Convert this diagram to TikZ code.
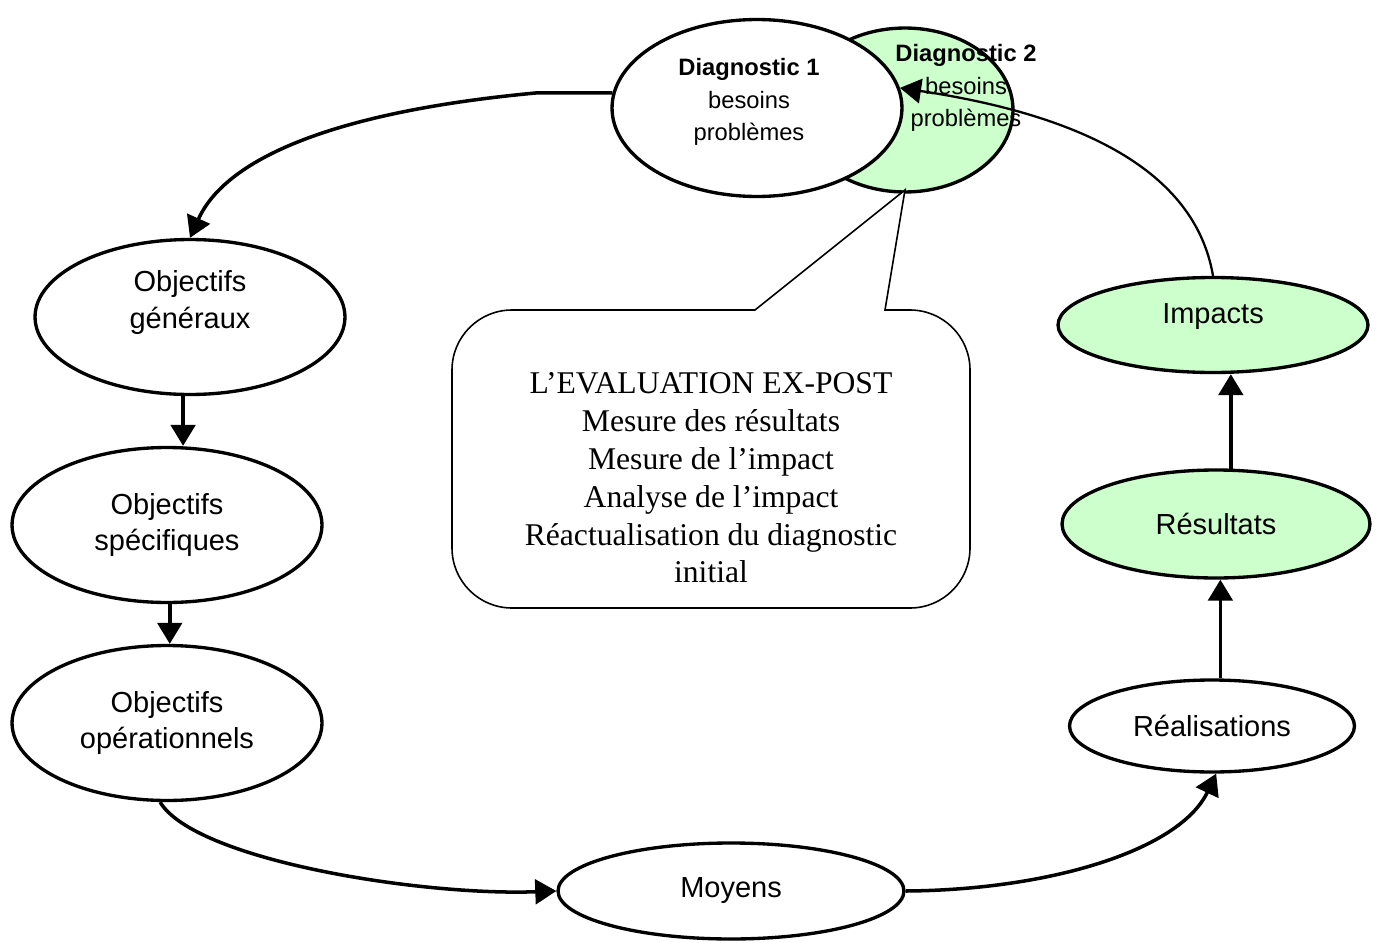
\documentclass[tikz,border=0pt]{standalone}
\usepackage{fontspec}
\setmainfont{Liberation Sans}
\newfontfamily\notefont{Liberation Serif}
\usepackage{tikz}
\usetikzlibrary{shapes.geometric, arrows.meta}
\definecolor{paleGreen}{HTML}{CCFFCC}

\begin{document}
\begin{tikzpicture}[x=0.02cm, y=-0.02cm]
            \tikzstyle{oval}=[draw, shape=ellipse, line width=1.9pt, inner sep=0pt, align=center, font=\fontsize{16.5}{21}\selectfont];
            \tikzstyle{diag}=[align=center, font=\fontsize{13.5}{18.5}\selectfont];
            \tikzstyle{arr}=[-{Triangle[length=12pt,width=14pt]}, line width=2pt];
            \useasboundingbox (0,0) rectangle (1380,943);
            \node[oval, fill=paleGreen, minimum width=4.32cm, minimum height=3.28cm] (diag2) at (905,110) {};
            \node[oval, fill=white, minimum width=5.8cm, minimum height=3.54cm] (diag1) at (757,108) {};
            \node[diag] (d1txt) at (749,102) {\textbf{Diagnostic 1}\\besoins\\problèmes};
            \node[diag] (d2txt) at (966,88) {\textbf{Diagnostic 2}\\besoins\\problèmes};
            \node[oval, text depth=20pt, minimum width=6.2cm, minimum height=3.1cm] (og) at (190,317) {Objectifs\\généraux};
            \node[oval, minimum width=6.2cm, minimum height=3.1cm] (os) at (167,525) {Objectifs\\spécifiques};
            \node[oval, minimum width=6.2cm, minimum height=3.1cm] (oo) at (167,723) {Objectifs\\opérationnels};
            \node[oval, minimum width=6.92cm, minimum height=1.92cm] (moy) at (731,891) {Moyens};
            \node[oval, minimum width=5.7cm, minimum height=1.84cm] (real) at (1212,726) {Réalisations};
            \node[oval, fill=paleGreen, minimum width=6.16cm, minimum height=2.16cm] (res) at (1216,524) {Résultats};
            \node[oval, fill=paleGreen, text depth=13pt, minimum width=6.2cm, minimum height=1.9cm] (imp) at (1213,325) {Impacts};
            \draw[fill=white, line width=0.9pt] (755,310) -- (905,190) -- (885,310) [rounded corners=1.2cm] -- (970,310)
                -- (970,608) -- (452,608) -- (452,310) [sharp corners] -- cycle;
            \node[align=center, font=\notefont\fontsize{18}{21.5}\selectfont] (note) at (711,478)
                {L’EVALUATION EX-POST\\Mesure des résultats\\Mesure de l’impact\\Analyse de l’impact\\Réactualisation du diagnostic\\initial};
            \draw[arr] (diag1.174) -- ++(-75,0) .. controls (330,112) and (225,160) .. (og.north);
            \draw[arr] (og.265) -- (og.265 |- os.north);
            \draw[arr] (os.272) -- (os.272 |- oo.north);
            \draw[arr] (oo.265) .. controls (195,860) and (420,896) .. (moy.west);
            \draw[arr] (moy.east) .. controls (1050,890) and (1180,850) .. (real.275);
            \draw[arr] (real.80) -- (real.80 |- res.south);
            \draw[arr] (res.75) -- (res.75 |- imp.south);
            \draw[arr, line width=1.3pt] (imp.north) .. controls (1195,170) and (1080,115) .. (diag1.8);
        \end{tikzpicture}
\end{document}
